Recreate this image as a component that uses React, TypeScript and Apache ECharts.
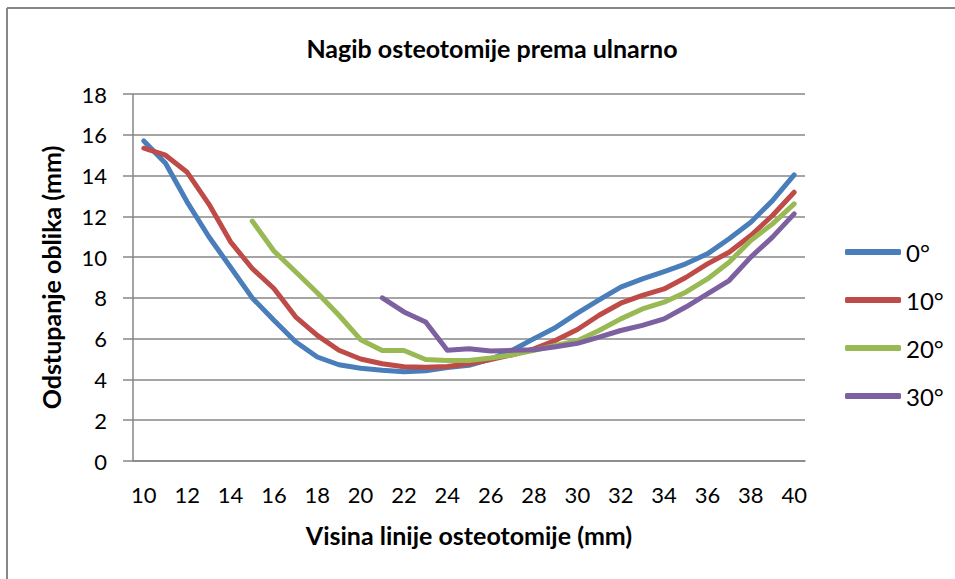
import React, { useEffect, useRef } from "react";
import * as echarts from "echarts";

const categories: string[] = [
  "10","11","12","13","14","15","16","17","18","19","20","21","22","23","24","25",
  "26","27","28","29","30","31","32","33","34","35","36","37","38","39","40",
];

const seriesNames = ["0°", "10°", "20°", "30°"];

const deg0: (number | null)[] = [
  15.7, 14.6, 12.7, 11.0, 9.5, 8.0, 6.9, 5.85, 5.1, 4.72, 4.55, 4.45, 4.38, 4.43, 4.58, 4.69,
  5.0, 5.43, 6.0, 6.55, 7.25, 7.9, 8.53, 8.93, 9.29, 9.67, 10.16, 10.9, 11.71, 12.77, 14.03,
];
const deg10: (number | null)[] = [
  15.34, 15.0, 14.16, 12.6, 10.75, 9.44, 8.46, 7.07, 6.16, 5.43, 5.0, 4.77, 4.62, 4.6, 4.64, 4.77,
  4.98, 5.21, 5.5, 5.92, 6.45, 7.15, 7.74, 8.12, 8.44, 9.0, 9.67, 10.24, 11.06, 12.04, 13.18,
];
const deg20: (number | null)[] = [
  null, null, null, null, null, 11.77, 10.3, 9.28, 8.25, 7.15, 5.95, 5.42, 5.42, 4.98, 4.93, 4.93,
  5.05, 5.21, 5.43, 5.67, 5.9, 6.4, 6.97, 7.46, 7.79, 8.28, 8.93, 9.75, 10.81, 11.63, 12.61,
];
const deg30: (number | null)[] = [
  null, null, null, null, null, null, null, null, null, null, null, 8.0, 7.31, 6.82, 5.43, 5.5,
  5.39, 5.43, 5.46, 5.6, 5.77, 6.08, 6.4, 6.65, 6.97, 7.55, 8.2, 8.85, 10.0, 10.98, 12.12,
];

const colors = ["#4A7EBB", "#BE4B48", "#98B954", "#7D60A0"];
const FONT = "Lato, 'Liberation Sans', sans-serif";

export default function App() {
  const ref = useRef<HTMLDivElement>(null);
  useEffect(() => {
    if (!ref.current) return;
    const chart = echarts.init(ref.current, undefined, { renderer: "svg" });
    const data = [deg0, deg10, deg20, deg30];
    chart.setOption({
      animation: false,
      backgroundColor: "#ffffff",
      textStyle: { fontFamily: FONT },
      title: {
        text: "Nagib osteotomije prema ulnarno",
        left: 487,
        top: 30,
        textAlign: "center",
        textStyle: { fontFamily: FONT, fontSize: 25, fontWeight: "bold", color: "#000" },
      },
      graphic: [
        { type: "line", shape: { x1: 7, y1: 8, x2: 955, y2: 8 }, style: { stroke: "#878787", lineWidth: 2 } },
        { type: "line", shape: { x1: 7, y1: 8, x2: 7, y2: 579 }, style: { stroke: "#878787", lineWidth: 2 } },
      ],
      legend: {
        orient: "vertical",
        left: 845,
        top: 240,
        padding: 0,
        icon: "roundRect",
        itemWidth: 56,
        itemHeight: 6,
        itemGap: 24,
        data: seriesNames,
        textStyle: { fontFamily: FONT, fontSize: 24, color: "#000", lineHeight: 24 },
      },
      grid: { left: 133, right: 150, top: 94, bottom: 118 },
      xAxis: {
        type: "category",
        data: categories,
        boundaryGap: true,
        name: "Visina linije osteotomije (mm)",
        nameLocation: "middle",
        nameGap: 61,
        nameTextStyle: { fontFamily: FONT, fontSize: 25, fontWeight: "bold", color: "#000" },
        axisLine: { lineStyle: { color: "#878787", width: 1.5 } },
        axisTick: { show: false },
        axisLabel: { interval: 1, margin: 22, fontSize: 22, color: "#000", fontFamily: FONT },
        splitLine: { show: false },
      },
      yAxis: {
        type: "value",
        min: 0,
        max: 18,
        interval: 2,
        name: "Odstupanje oblika (mm)",
        nameLocation: "middle",
        nameGap: 70,
        nameTextStyle: { fontFamily: FONT, fontSize: 25, fontWeight: "bold", color: "#000" },
        axisLine: { show: true, lineStyle: { color: "#878787", width: 1.5 } },
        axisTick: { show: true, length: 10, lineStyle: { color: "#878787", width: 1.5 } },
        axisLabel: { margin: 26, fontSize: 22, color: "#000", fontFamily: FONT },
        splitLine: { lineStyle: { color: "#878787", width: 1.5 } },
      },
      series: seriesNames.map((name, i) => ({
        name,
        type: "line",
        data: data[i],
        symbol: "none",
        showSymbol: false,
        connectNulls: false,
        color: colors[i],
        itemStyle: { color: colors[i] },
        lineStyle: { color: colors[i], width: 5, cap: "round", join: "round" },
      })),
    });
    return () => chart.dispose();
  }, []);
  return (
    <div
      ref={ref}
      style={{ position: "absolute", left: 0, top: 0, width: 955, height: 579 }}
    />
  );
}
